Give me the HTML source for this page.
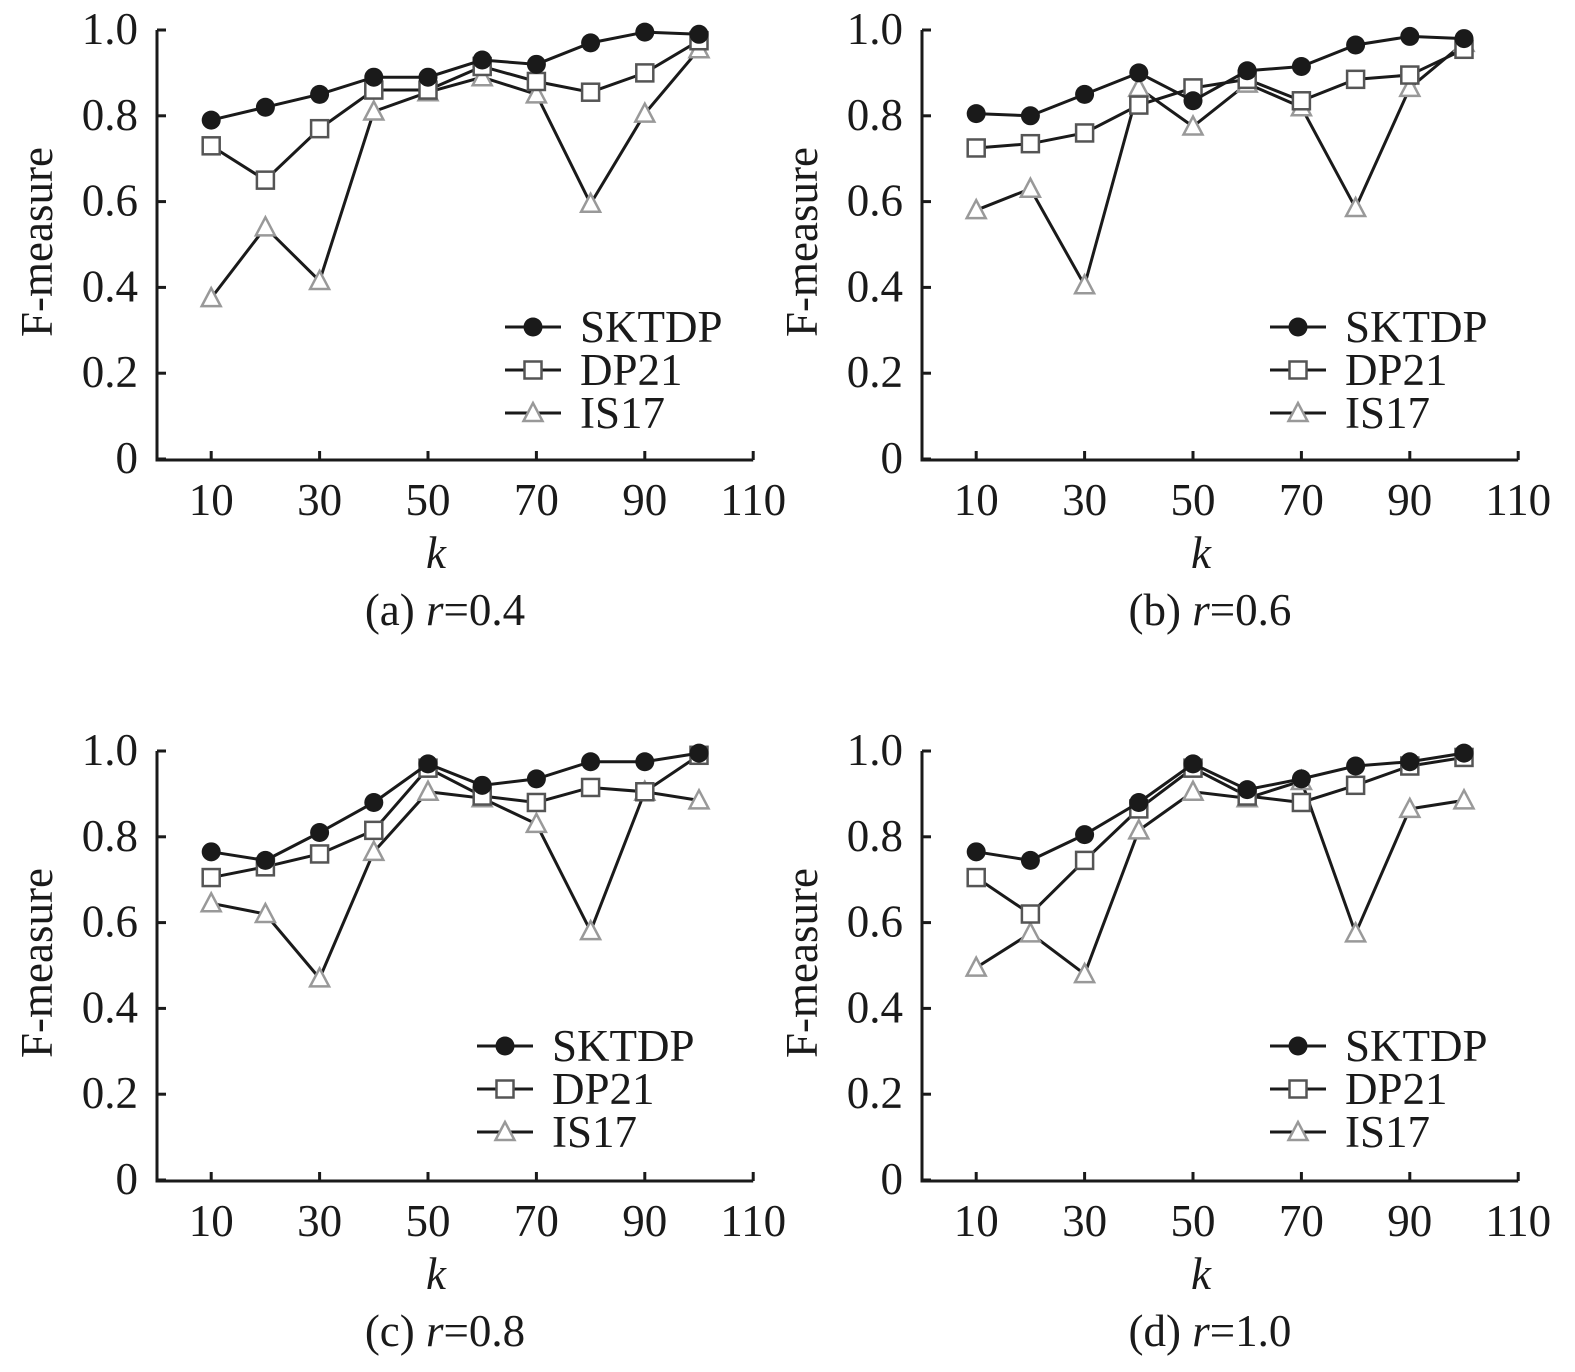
<!DOCTYPE html>
<html><head><meta charset="utf-8"><style>
body{margin:0;background:#fff}
svg{display:block}
text{font-family:"Liberation Serif","Times New Roman",serif;fill:#1a1a1a}
</style></head><body>
<svg id="chart" width="1575" height="1372" viewBox="0 0 1575 1372" xmlns="http://www.w3.org/2000/svg"></svg>
<script>
const kValues=[10,20,30,40,50,60,70,80,90,100];
const xTicks=[10,30,50,70,90,110];
const yTicks=[0,0.2,0.4,0.6,0.8,1.0];
const yTickLabels=["0","0.2","0.4","0.6","0.8","1.0"];
const seriesNames=["SKTDP","DP21","IS17"];
const captions=["(a) ","(b) ","(c) ","(d) "];
const rValues=["0.4","0.6","0.8","1.0"];
const skA=[0.79,0.82,0.85,0.89,0.89,0.93,0.92,0.97,0.995,0.99];
const dpA=[0.73,0.65,0.77,0.86,0.86,0.915,0.88,0.855,0.90,0.975];
const isA=[0.375,0.54,0.415,0.81,0.855,0.89,0.85,0.595,0.805,0.955];
const skB=[0.805,0.80,0.85,0.90,0.835,0.905,0.915,0.965,0.985,0.98];
const dpB=[0.725,0.735,0.76,0.825,0.865,0.885,0.835,0.885,0.895,0.955];
const isB=[0.58,0.63,0.405,0.865,0.775,0.875,0.82,0.585,0.865,0.97];
const skC=[0.765,0.745,0.81,0.88,0.97,0.92,0.935,0.975,0.975,0.995];
const dpC=[0.705,0.73,0.76,0.815,0.96,0.895,0.88,0.915,0.905,0.99];
const isC=[0.645,0.62,0.47,0.765,0.905,0.89,0.83,0.58,0.905,0.885];
const skD=[0.765,0.745,0.805,0.88,0.97,0.91,0.935,0.965,0.975,0.995];
const dpD=[0.705,0.62,0.745,0.865,0.96,0.895,0.88,0.92,0.965,0.985];
const isD=[0.495,0.575,0.48,0.815,0.905,0.89,0.93,0.575,0.865,0.885];

const panels=[[skA,dpA,isA],[skB,dpB,isB],[skC,dpC,isC],[skD,dpD,isD]];
const svg=document.getElementById('chart');
const NS='http://www.w3.org/2000/svg';
function mk(tag,attrs,parent){const e=document.createElementNS(NS,tag);for(const k in attrs)e.setAttribute(k,attrs[k]);parent.appendChild(e);return e;}
function marker(g,type,x,y){
  let m;
  if(type===0)m=mk('circle',{cx:x,cy:y,r:9.5,fill:'#1a1a1a'},g);
  else if(type===1)m=mk('rect',{x:x-8.5,y:y-8.5,width:17,height:17,fill:'#fff',stroke:'#555','stroke-width':2.5},g);
  else m=mk('polygon',{points:`${x},${y-10} ${x-9.5},${y+8} ${x+9.5},${y+8}`,fill:'#fff',stroke:'#999','stroke-width':2.5},g);
  return m;
}
panels.forEach((series,p)=>{
  const ox=(p%2)*765, oy=Math.floor(p/2)*721;
  const X=v=>ox+157+v*5.42;
  const Y=v=>oy+459-v*429;
  const g=mk('g',{},svg);
  
  
  const ax=mk('path',{d:`M${ox+157},${oy+30} V${oy+460} H${X(110)}`,fill:'none',stroke:'#1a1a1a','stroke-width':3},g);
  
  
  yTicks.forEach((t,i)=>{
    mk('line',{x1:ox+157,x2:ox+166,y1:Y(t),y2:Y(t),stroke:'#1a1a1a','stroke-width':3},g);
    const tx=mk('text',{x:ox+138,y:Y(t)+14,'font-size':45,'text-anchor':'end'},g);
    tx.textContent=yTickLabels[i];
    
    
  });
  xTicks.forEach(t=>{
    mk('line',{x1:X(t),x2:X(t),y1:oy+451,y2:oy+460,stroke:'#1a1a1a','stroke-width':3},g);
    const tx=mk('text',{x:X(t),y:oy+515,'font-size':45,'text-anchor':'middle'},g);
    tx.textContent=t;
    
    
  });
  const xl=mk('text',{x:ox+436,y:oy+568,'font-size':45,'font-style':'italic','text-anchor':'middle'},g);
  xl.textContent='k';
  
  
  const yl=mk('text',{x:0,y:0,'font-size':45,'text-anchor':'middle',transform:`translate(${ox+52},${oy+242}) rotate(-90)`},g);
  yl.textContent='F-measure';
  
  
  const cap=mk('text',{x:ox+445,y:oy+625,'font-size':45,'text-anchor':'middle'},g);
  
  
  cap.appendChild(document.createTextNode(captions[p]));
  const it=mk('tspan',{'font-style':'italic'},cap);it.textContent='r';
  cap.appendChild(document.createTextNode('='+rValues[p]));
  [2,1,0].forEach(s=>{
    const vals=series[s];
    const pl=mk('polyline',{points:vals.map((v,i)=>X(kValues[i])+','+Y(v)).join(' '),fill:'none',stroke:'#1a1a1a','stroke-width':3},g);
    
    
    vals.forEach((v,i)=>{
      const m=marker(g,s,X(kValues[i]),Y(v));
      
      
    });
  });
  const lx=ox+(p===2?477:505), ly=oy+(p>=2?-2:0);
  seriesNames.forEach((n,s)=>{
    const yy=ly+327+s*43;
    const lg=mk('g',{},g);
    
    
    mk('line',{x1:lx,x2:lx+56,y1:yy,y2:yy,stroke:'#1a1a1a','stroke-width':3},lg);
    marker(lg,s,lx+28,yy);
    const t=mk('text',{x:lx+75,y:yy+15,'font-size':45},lg);
    t.textContent=n;
  });
});
</script>
</body></html>
